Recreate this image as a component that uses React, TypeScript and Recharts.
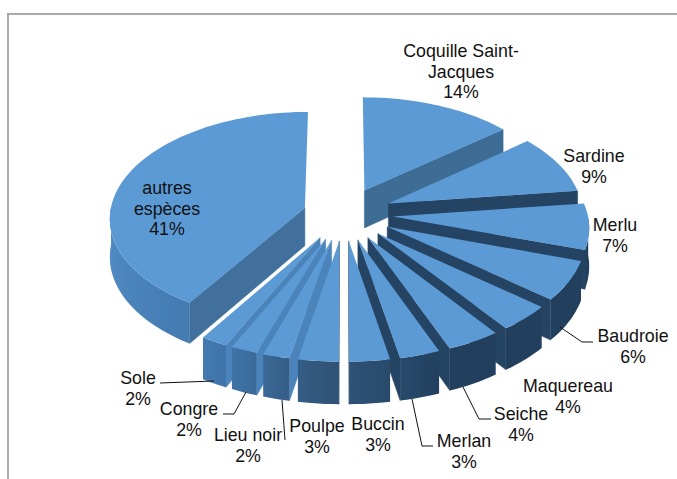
import React from 'react';
import { PieChart, Pie } from 'recharts';

const categories = ['Coquille Saint-Jacques', 'Sardine', 'Merlu', 'Baudroie', 'Maquereau', 'Seiche', 'Merlan', 'Buccin', 'Poulpe', 'Lieu noir', 'Congre', 'Sole', 'autres espèces'];
const shares = [14, 9, 7, 6, 4, 4, 3, 3, 3, 2, 2, 2, 41];

// how each label wraps, then where it sits: centre x, first baseline
const labelLines = [['Coquille Saint-', 'Jacques'], ['Sardine'], ['Merlu'], ['Baudroie'], ['Maquereau'], ['Seiche'], ['Merlan'], ['Buccin'], ['Poulpe'], ['Lieu noir'], ['Congre'], ['Sole'], ['autres', 'espèces']];
const labelAnchors = [[461, 57], [594, 162], [615, 231], [633, 342], [568, 392], [521, 420], [464, 447], [378, 430], [317, 432], [248, 441], [189, 415], [138, 384], [167, 194]];
const leaders: Record<string, string> = {
  Baudroie: '593,342 582,342 560,327',
  Seiche: '491,419 479,419 463,387',
  Merlan: '433,446 422,446 412,399',
  'Lieu noir': '285,440 282,400',
  Congre: '223,414 234,414 246,392',
  Sole: '160,383 214,381',
};

const W = 677;
const H = 479;
const CX = 344;
const CY = 214;
const RADIUS = 195;
const SQUASH = 0.54;
const DEPTH = 38;
const EYE = 11.5;
const EXPLODE = 0.25;
const TOP = '#5b9ad4';

const rows = categories.map((name, i) => ({ name, value: shares[i], lines: labelLines[i], anchor: labelAnchors[i] }));
// painter's order: right half runs back to front clockwise, left half the other way round
const rightRows = rows.slice(0, 8);
const leftRows = rows.slice(8).reverse();

const rimStops: [number, number[]][] = [
  [0, [0x22, 0x40, 0x5e]],
  [158, [0x22, 0x40, 0x5e]],
  [172, [0x2a, 0x4c, 0x6e]],
  [188, [0x33, 0x59, 0x80]],
  [205, [0x3f, 0x74, 0xa8]],
  [214, [0x44, 0x7c, 0xb2]],
  [275, [0x55, 0x90, 0xc8]],
  [360, [0x55, 0x90, 0xc8]],
];

const rimColor = (a: number) => {
  for (let i = 1; i < rimStops.length; i++) {
    if (a <= rimStops[i][0]) {
      const [a0, c0] = rimStops[i - 1];
      const [a1, c1] = rimStops[i];
      const t = (a - a0) / (a1 - a0 || 1);
      return `rgb(${c0.map((c, k) => Math.round(c + (c1[k] - c) * t)).join(',')})`;
    }
  }
  return '#5590c8';
};

// colour of the flat cut face hanging from an edge, a = degrees clockwise from the top
const cutColor = (a: number) => {
  if (a < 60) return '#3d6c94';
  if (a <= 181) return '#254464';
  if (a < 210) return '#4a84ba';
  return '#40709b';
};

const clockwise = (deg: number) => (((90 - deg) % 360) + 360) % 360;

const Slice3D = (props: any) => {
  const { cx, cy, outerRadius, startAngle, endAngle, name } = props;
  const lo = Math.min(startAngle, endAngle);
  const hi = Math.max(startAngle, endAngle);
  const mid = ((lo + hi) / 2) * (Math.PI / 180);
  const burst = name === 'autres espèces' ? 0.21 : EXPLODE;

  const project = (deg: number, r: number, down: number) => {
    const th = (deg * Math.PI) / 180;
    const X = r * Math.cos(th) + burst * Math.cos(mid);
    const Y = -(r * Math.sin(th) + burst * Math.sin(mid));
    const p = EYE / (EYE - Y);
    return [cx + outerRadius * X * p, cy + outerRadius * SQUASH * Y * p + down * DEPTH * p];
  };
  const pts = (list: number[][]) => list.map((q) => `${q[0].toFixed(1)},${q[1].toFixed(1)}`).join(' ');

  const steps = Math.max(2, Math.ceil((hi - lo) / 2));
  const angles = Array.from({ length: steps + 1 }, (_, i) => lo + ((hi - lo) * i) / steps);
  const apex = project(0, 0, 0);
  const apexLow = project(0, 0, 1);

  // the cut face towards the viewer: clockwise edge on the right half, the other on the left
  const cutDeg = Math.cos(mid) >= 0 ? lo : hi;
  const cutFill = cutColor(clockwise(cutDeg));

  // only the part of the outer wall that faces the viewer
  const rimAngles = angles.filter((deg) => Math.sin((deg * Math.PI) / 180) < 0.02);
  let rim = null;
  if (rimAngles.length > 1) {
    const upper = rimAngles.map((deg) => project(deg, 1, 0));
    const lower = rimAngles.map((deg) => project(deg, 1, 1)).reverse();
    const xs = upper.map((q) => q[0]);
    const x0 = Math.min(...xs);
    const x1 = Math.max(...xs);
    const id = `rim-${categories.indexOf(name)}`;
    rim = (
      <>
        <defs>
          <linearGradient id={id} gradientUnits="userSpaceOnUse" x1={x0} y1={0} x2={x1} y2={0}>
            {rimAngles.map((deg, i) => (
              <stop key={i} offset={(xs[i] - x0) / (x1 - x0 || 1)} stopColor={rimColor(clockwise(deg))} />
            ))}
          </linearGradient>
        </defs>
        <polygon points={pts([...upper, ...lower])} fill={`url(#${id})`} />
      </>
    );
  }

  return (
    <g>
      <polygon
        points={pts([apex, project(cutDeg, 1, 0), project(cutDeg, 1, 1), apexLow])}
        fill={cutFill}
        stroke={cutFill}
        strokeWidth={0.5}
      />
      {rim}
      <polygon points={pts([apex, ...angles.map((deg) => project(deg, 1, 0))])} fill={TOP} />
    </g>
  );
};

const SliceLabel = (props: any) => {
  const { name, value, lines, anchor } = props;
  const text = [...lines, `${value}%`];
  return (
    <g>
      {leaders[name] && <polyline points={leaders[name]} fill="none" stroke="#111" strokeWidth={1} />}
      <text textAnchor="middle" fontFamily="Liberation Sans" fontSize={17.8} fill="#111">
        {text.map((t: string, i: number) => (
          <tspan key={i} x={anchor[0]} y={anchor[1] + i * 20.6}>
            {t}
          </tspan>
        ))}
      </text>
    </g>
  );
};

const App = () => (
  <div style={{ position: 'absolute', left: 0, top: 0, width: W, height: H, background: '#fff', overflow: 'hidden' }}>
    <div style={{ position: 'absolute', left: 7, top: 13, width: W, height: H, borderTop: '2px solid #aaa', borderLeft: '2px solid #aaa' }} />
    <div style={{ position: 'absolute', left: 0, top: 0 }}>
      <PieChart width={W} height={H} margin={{ top: 0, right: 0, bottom: 0, left: 0 }}>
        <Pie
          data={leftRows}
          dataKey="value"
          nameKey="name"
          cx={CX}
          cy={CY}
          innerRadius={0}
          outerRadius={RADIUS}
          startAngle={90}
          endAngle={270}
          stroke="none"
          shape={Slice3D}
          label={SliceLabel}
          labelLine={false}
          isAnimationActive={false}
        />
        <Pie
          data={rightRows}
          dataKey="value"
          nameKey="name"
          cx={CX}
          cy={CY}
          innerRadius={0}
          outerRadius={RADIUS}
          startAngle={90}
          endAngle={-90}
          stroke="none"
          shape={Slice3D}
          label={SliceLabel}
          labelLine={false}
          isAnimationActive={false}
        />
      </PieChart>
    </div>
  </div>
);

export default App;
